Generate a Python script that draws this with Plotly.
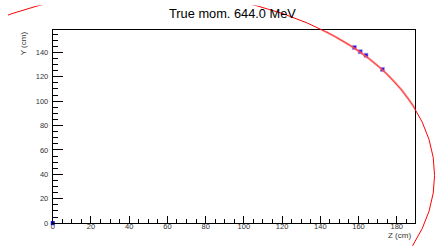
import plotly.graph_objects as go

# ---- data ----
title_text = "True mom. 644.0 MeV"
hit_z = [157.8, 160.9, 163.9, 172.5]
hit_y = [144.0, 140.5, 137.6, 126.0]
origin_z = [0.0]
origin_y = [0.0]
# fitted track circle (centre z, centre y, radius) in cm
track_cz, track_cy, track_r = 49.5, 39.2, 150.3
x_ticks = [0, 20, 40, 60, 80, 100, 120, 140, 160, 180]
y_ticks = [0, 20, 40, 60, 80, 100, 120, 140]

W, H = 435, 251
xr = [0, 189.6]
yr = [0, 158.0]
xdom = [51 / W, 415 / W]
ydom = [(H - 227.7) / H, (H - 31) / H]
# outer (pad) clip region
oxdom = [6 / W, 1.0]
oydom = [0.0, (H - 5.5) / H]

def outer_range(r, dom, odom):
    s = (r[1] - r[0]) / (dom[1] - dom[0])
    return [r[0] - (dom[0] - odom[0]) * s, r[1] + (odom[1] - dom[1]) * s]

fig = go.Figure()

# invisible trace to activate outer subplot
fig.add_trace(go.Scatter(x=[track_cz], y=[track_cy], mode="markers",
                         marker=dict(size=1, color="rgba(0,0,0,0)"),
                         showlegend=False, hoverinfo="skip", xaxis="x2", yaxis="y2"))
fig.add_trace(go.Scatter(x=hit_z, y=hit_y, mode="markers",
                         marker=dict(symbol="square", size=4, color="#1010e0",
                                     line=dict(width=1, color="rgba(170,150,255,0.7)")),
                         cliponaxis=False, showlegend=False, xaxis="x", yaxis="y"))
fig.add_trace(go.Scatter(x=origin_z, y=origin_y, mode="markers",
                         marker=dict(symbol="square", size=4, color="#0000ff"),
                         cliponaxis=False, showlegend=False, xaxis="x", yaxis="y"))

# full track circle (clipped only to the pad)
fig.add_shape(type="circle", xref="x2", yref="y2",
              x0=track_cz - track_r, x1=track_cz + track_r,
              y0=track_cy - track_r, y1=track_cy + track_r,
              line=dict(color="#ff0000", width=1))
# reconstructed part inside frame
fig.add_shape(type="circle", xref="x", yref="y",
              x0=track_cz - track_r, x1=track_cz + track_r,
              y0=track_cy - track_r, y1=track_cy + track_r,
              line=dict(color="rgba(255,90,90,0.75)", width=2))

tickfont = dict(family="Liberation Sans, Arial, sans-serif", size=7.5, color="#333333")
fig.update_layout(
    width=W, height=H,
    margin=dict(l=0, r=0, t=0, b=0),
    paper_bgcolor="white", plot_bgcolor="rgba(0,0,0,0)",
    xaxis=dict(domain=xdom, range=xr, tickvals=x_ticks, ticks="inside", ticklen=7,
               tickcolor="black", tickwidth=1, showline=True, linecolor="black",
               linewidth=1, mirror=True, showgrid=False, zeroline=False,
               tickfont=tickfont, ticklabelstandoff=-4,
               minor=dict(dtick=5, ticks="inside", ticklen=4, tickcolor="black",
                          showgrid=False),
               anchor="y"),
    yaxis=dict(domain=ydom, range=yr, tickvals=y_ticks, ticks="inside", ticklen=10,
               tickcolor="black", tickwidth=1, showline=True, linecolor="black",
               linewidth=1, mirror=True, showgrid=False, zeroline=False,
               tickfont=tickfont, ticklabelstandoff=2,
               minor=dict(dtick=5, ticks="inside", ticklen=5, tickcolor="black",
                          showgrid=False),
               anchor="x"),
    xaxis2=dict(domain=oxdom, range=outer_range(xr, xdom, oxdom), visible=False,
                anchor="y2", fixedrange=True),
    yaxis2=dict(domain=oydom, range=outer_range(yr, ydom, oydom), visible=False,
                anchor="x2", fixedrange=True),
    showlegend=False,
    annotations=[
        dict(text=title_text, xref="paper", yref="paper", x=231.5 / W, y=1 - 14 / H,
             xanchor="center", yanchor="middle", showarrow=False,
             font=dict(family="Liberation Sans, Arial, sans-serif", size=12.8, color="black")),
        dict(text="Z (cm)", xref="paper", yref="paper", x=413 / W, y=1 - 240.5 / H,
             xanchor="right", yanchor="middle", showarrow=False,
             font=dict(family="Liberation Sans, Arial, sans-serif", size=8, color="#333333")),
        dict(text="Y (cm)", xref="paper", yref="paper", x=22 / W, y=1 - 30 / H,
             xanchor="center", yanchor="top", textangle=-90, showarrow=False,
             font=dict(family="Liberation Sans, Arial, sans-serif", size=8, color="#333333")),
    ],
)

fig.write_html("out.html", config={"displayModeBar": False},
               post_script="document.body.style.margin='0';document.body.style.overflow='hidden';")
